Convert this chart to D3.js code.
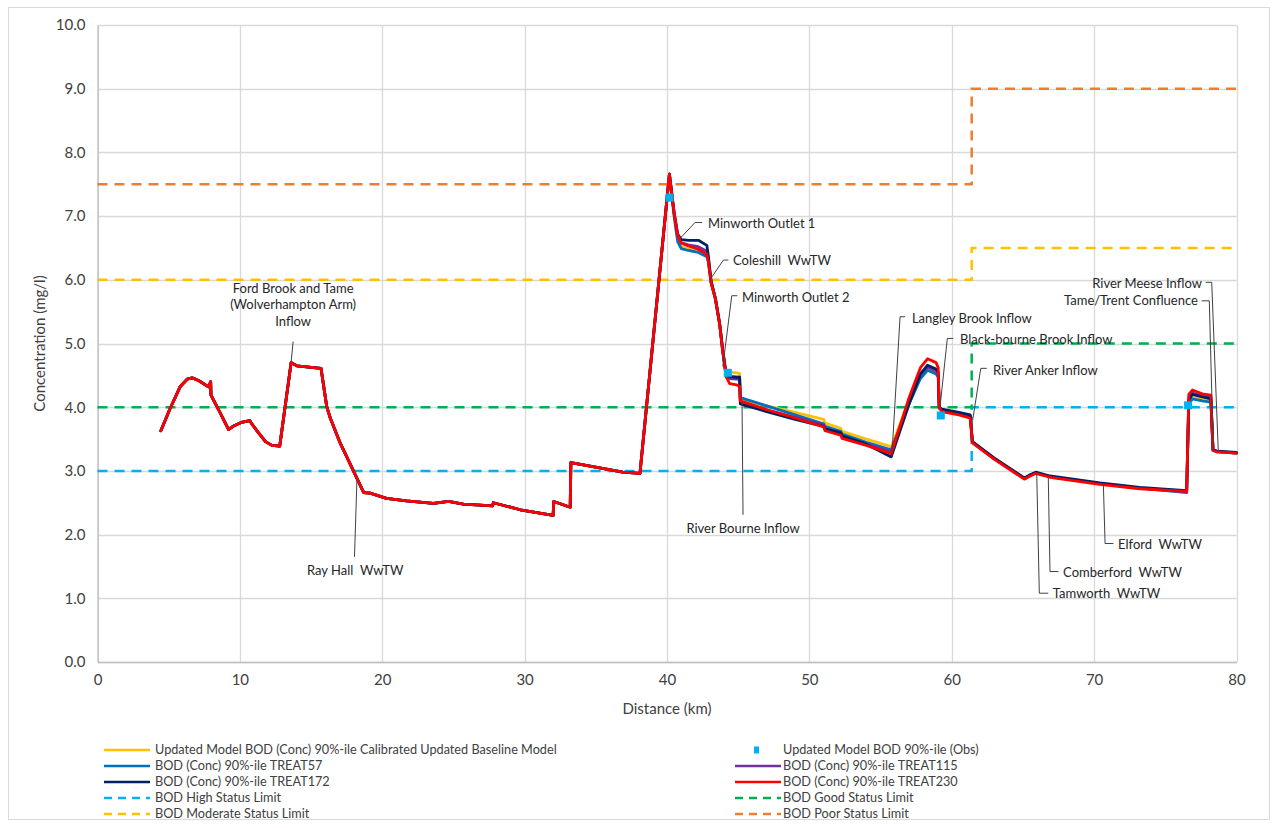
<!DOCTYPE html>
<html>
<head>
<meta charset="utf-8">
<script src="https://cdn.jsdelivr.net/npm/d3@7"></script>
<style>
  html, body { margin: 0; padding: 0; background: #fff; }
  svg { display: block; font-family: Lato, "Open Sans", sans-serif; }
  text { white-space: pre; }
</style>
</head>
<body>
<svg id="chart" width="1277" height="828"></svg>
<script>
// ---- Data: BOD 90%-ile concentration (mg/l) along the river (km) ----

// Reach common to every scenario (upstream of Minworth)
const upstreamKm  = [4.45, 5.1, 5.8, 6.3, 6.65, 7.1, 7.8, 7.95, 7.97, 8.6, 9.2, 9.6, 10.1, 10.7, 10.8, 11.3, 11.8, 12.25, 12.8, 13.6, 14.0, 15.7, 16.1, 16.35, 17.0, 18.0, 18.7, 19.15, 20.3, 21.7, 23.6, 24.65, 25.7, 27.75, 27.8, 29.7, 32.0, 32.05, 33.2, 33.25, 36.9, 38.1];
const upstreamVal = [3.63, 3.98, 4.32, 4.44, 4.46, 4.42, 4.32, 4.40, 4.19, 3.92, 3.65, 3.71, 3.76, 3.79, 3.75, 3.60, 3.46, 3.40, 3.39, 4.70, 4.65, 4.61, 4.01, 3.83, 3.46, 2.99, 2.66, 2.65, 2.57, 2.53, 2.49, 2.52, 2.48, 2.45, 2.50, 2.39, 2.30, 2.52, 2.43, 3.13, 2.98, 2.96];

// Downstream reach, per scenario
const baselineKm  = [40.17, 40.5, 40.75, 41.0, 41.5, 42.2, 42.8, 42.9, 43.1, 43.4, 43.7, 43.9, 44.15, 44.4, 44.9, 45.1, 45.15, 47.0, 49.0, 51.0, 51.1, 52.2, 52.3, 54.0, 55.75, 57.0, 57.8, 58.3, 58.9, 59.05, 59.12, 59.3, 60.5, 61.3, 61.45, 63.0, 65.1, 65.5, 65.9, 66.9, 70.4, 73.2, 76.5, 76.65, 76.9, 77.6, 78.2, 78.35, 78.6, 80.0];
const baselineVal = [7.66, 7.02, 6.64, 6.52, 6.48, 6.45, 6.38, 6.30, 5.96, 5.71, 5.31, 4.92, 4.58, 4.55, 4.54, 4.53, 4.12, 4.02, 3.92, 3.81, 3.75, 3.67, 3.62, 3.50, 3.38, 4.10, 4.50, 4.62, 4.56, 4.50, 3.99, 3.96, 3.90, 3.86, 3.45, 3.19, 2.88, 2.93, 2.97, 2.91, 2.80, 2.73, 2.67, 4.08, 4.16, 4.12, 4.10, 3.33, 3.31, 3.28];

const treat57Km   = baselineKm;
const treat57Val  = [7.66, 7.00, 6.60, 6.49, 6.46, 6.43, 6.36, 6.28, 5.95, 5.70, 5.30, 4.91, 4.50, 4.48, 4.47, 4.47, 4.15, 4.02, 3.88, 3.74, 3.70, 3.62, 3.58, 3.45, 3.33, 4.05, 4.45, 4.58, 4.52, 4.47, 3.98, 3.95, 3.90, 3.86, 3.45, 3.19, 2.88, 2.93, 2.97, 2.91, 2.80, 2.73, 2.66, 4.05, 4.13, 4.10, 4.08, 3.33, 3.30, 3.28];

const treat115Km  = baselineKm;
const treat115Val = [7.66, 7.04, 6.68, 6.58, 6.55, 6.52, 6.45, 6.34, 5.96, 5.70, 5.30, 4.91, 4.50, 4.45, 4.44, 4.44, 4.08, 3.96, 3.84, 3.72, 3.67, 3.59, 3.54, 3.42, 3.30, 4.08, 4.52, 4.63, 4.57, 4.52, 3.99, 3.96, 3.91, 3.86, 3.45, 3.19, 2.88, 2.93, 2.97, 2.91, 2.80, 2.73, 2.67, 4.15, 4.22, 4.18, 4.15, 3.33, 3.31, 3.28];

const treat172Km  = baselineKm;
const treat172Val = [7.66, 7.06, 6.72, 6.63, 6.62, 6.62, 6.54, 6.38, 5.98, 5.71, 5.31, 4.92, 4.52, 4.48, 4.47, 4.47, 4.05, 3.93, 3.81, 3.70, 3.66, 3.60, 3.55, 3.42, 3.22, 4.05, 4.52, 4.66, 4.60, 4.55, 4.00, 3.97, 3.92, 3.88, 3.46, 3.20, 2.89, 2.94, 2.98, 2.92, 2.81, 2.74, 2.69, 4.12, 4.20, 4.16, 4.13, 3.33, 3.31, 3.29];

const treat230Km  = baselineKm;
const treat230Val = [7.66, 7.05, 6.70, 6.58, 6.53, 6.48, 6.40, 6.30, 5.95, 5.70, 5.30, 4.90, 4.48, 4.37, 4.35, 4.33, 4.10, 3.96, 3.83, 3.69, 3.63, 3.56, 3.51, 3.40, 3.27, 4.15, 4.62, 4.76, 4.70, 4.62, 4.00, 3.93, 3.88, 3.83, 3.44, 3.18, 2.87, 2.92, 2.96, 2.90, 2.79, 2.72, 2.68, 4.20, 4.27, 4.21, 4.19, 3.32, 3.30, 3.28];

// Observed 90%-ile values
const obsKm  = [40.17, 44.27, 59.23, 76.6];
const obsVal = [7.29, 4.54, 3.87, 4.03];

// WFD status limits (step change at the Tame/Anker reach)
const limitKm   = [0, 61.4, 61.4, 80];
const highLim   = [3.0, 3.0, 4.0, 4.0];
const goodLim   = [4.0, 4.0, 5.0, 5.0];
const modLim    = [6.0, 6.0, 6.5, 6.5];
const poorLim   = [7.5, 7.5, 9.0, 9.0];

// Axis ticks
const xTicks = [0, 10, 20, 30, 40, 50, 60, 70, 80];
const yTicks = [0, 1, 2, 3, 4, 5, 6, 7, 8, 9, 10];

// Point annotations: text, label position, leader path (all in km / mg/l)
const annotations = [
  { lines: ["Ford Brook and Tame", "(Wolverhampton Arm)", "Inflow"], at: [13.74, 5.87], anchor: "middle", leader: [[13.74, 5.03], [13.6, 4.71]] },
  { lines: ["Ray Hall  WwTW"], at: [18.1, 1.43], anchor: "middle", leader: [[18.05, 1.65], [18.22, 2.85]] },
  { lines: ["Minworth Outlet 1"], at: [42.88, 6.88], anchor: "start", leader: [[40.92, 6.65], [41.97, 6.90], [42.46, 6.90]] },
  { lines: ["Coleshill  WwTW"], at: [44.64, 6.30], anchor: "start", leader: [[43.02, 6.0], [43.96, 6.31], [44.31, 6.31]] },
  { lines: ["Minworth Outlet 2"], at: [45.27, 5.73], anchor: "start", leader: [[43.92, 4.64], [44.55, 5.75], [44.94, 5.75]] },
  { lines: ["River Bourne Inflow"], at: [45.34, 2.10], anchor: "middle", leader: [[45.27, 4.08], [45.34, 2.31]] },
  { lines: ["Langley Brook Inflow"], at: [57.2, 5.40], anchor: "start", leader: [[55.79, 3.22], [56.37, 5.42], [56.72, 5.42]] },
  { lines: ["Black-bourne Brook Inflow"], at: [60.58, 5.07], anchor: "start", leader: [[59.18, 4.01], [59.69, 5.08], [60.11, 5.08]] },
  { lines: ["River Anker Inflow"], at: [62.9, 4.58], anchor: "start", leader: [[61.47, 3.80], [62.04, 4.61], [62.46, 4.61]] },
  { lines: ["River Meese Inflow"], at: [77.57, 5.95], anchor: "end", leader: [[77.84, 5.96], [78.26, 5.96], [78.72, 3.31]] },
  { lines: ["Tame/Trent Confluence"], at: [77.29, 5.67], anchor: "end", leader: [[77.55, 5.67], [78.09, 5.67], [78.37, 3.32]] },
  { lines: ["Elford  WwTW"], at: [71.68, 1.85], anchor: "start", leader: [[70.65, 2.78], [70.77, 1.86], [71.35, 1.86]] },
  { lines: ["Comberford  WwTW"], at: [67.82, 1.41], anchor: "start", leader: [[66.78, 2.90], [66.9, 1.42], [67.49, 1.42]] },
  { lines: ["Tamworth  WwTW"], at: [67.1, 1.07], anchor: "start", leader: [[65.97, 2.96], [66.15, 1.08], [66.78, 1.08]] }
];

// ---- Series definitions ----
const zip = (ks, vs) => ks.map((k, i) => ({ km: k, v: vs[i] }));
const withUpstream = (ks, vs) => zip(upstreamKm, upstreamVal).concat(zip(ks, vs));

const lineSeries = [
  { name: "Updated Model BOD (Conc) 90%-ile Calibrated Updated Baseline Model", color: "#ffc000", data: withUpstream(baselineKm, baselineVal) },
  { name: "BOD (Conc) 90%-ile TREAT57",  color: "#0070c0", data: withUpstream(treat57Km, treat57Val) },
  { name: "BOD (Conc) 90%-ile TREAT115", color: "#7030a0", data: withUpstream(treat115Km, treat115Val) },
  { name: "BOD (Conc) 90%-ile TREAT172", color: "#002060", data: withUpstream(treat172Km, treat172Val) },
  { name: "BOD (Conc) 90%-ile TREAT230", color: "#ff0000", data: withUpstream(treat230Km, treat230Val) }
];
const limitSeries = [
  { name: "BOD High Status Limit",     color: "#00b0f0", data: zip(limitKm, highLim) },
  { name: "BOD Good Status Limit",     color: "#00b050", data: zip(limitKm, goodLim) },
  { name: "BOD Moderate Status Limit", color: "#ffc000", data: zip(limitKm, modLim) },
  { name: "BOD Poor Status Limit",     color: "#ed7d31", data: zip(limitKm, poorLim) }
];
const obsSeries = { name: "Updated Model BOD 90%-ile (Obs)", color: "#00b0f0", data: zip(obsKm, obsVal) };

// ---- Layout ----
const svg = d3.select("#chart");
const plot = { left: 97.5, right: 1236.5, top: 25, bottom: 662 };
const x = d3.scaleLinear().domain([0, 80]).range([plot.left, plot.right]);
const y = d3.scaleLinear().domain([0, 10]).range([plot.bottom, plot.top]);

// Chart frame
svg.append("rect").attr("x", 8.5).attr("y", 7.5).attr("width", 1261).attr("height", 812)
  .attr("fill", "#fff").attr("stroke", "#d9d9d9").attr("stroke-width", 1);

// Gridlines
const grid = svg.append("g");
grid.selectAll(".gx").data(xTicks).join("line")
  .attr("x1", d => Math.round(x(d)) + 0.5).attr("x2", d => Math.round(x(d)) + 0.5)
  .attr("y1", plot.top).attr("y2", plot.bottom)
  .attr("stroke", "#d9d9d9").attr("stroke-width", 1.3);
grid.selectAll(".gy").data(yTicks).join("line")
  .attr("x1", plot.left).attr("x2", plot.right)
  .attr("y1", d => Math.round(y(d)) + 0.5).attr("y2", d => Math.round(y(d)) + 0.5)
  .attr("stroke", "#d9d9d9").attr("stroke-width", 1.3);

// Axes
const xAxis = svg.append("g").attr("transform", `translate(0,${plot.bottom})`)
  .call(d3.axisBottom(x).tickValues(xTicks).tickSize(0).tickPadding(12).tickFormat(d3.format("d")));
const yAxis = svg.append("g").attr("transform", `translate(${plot.left},0)`)
  .call(d3.axisLeft(y).tickValues(yTicks).tickSize(0).tickPadding(12).tickFormat(d3.format(".1f")));
[xAxis, yAxis].forEach(a => {
  a.select(".domain").attr("stroke", "#bfbfbf").attr("stroke-width", 1.3);
  a.selectAll("text").attr("fill", "#404040").style("font-size", "15px").style("font-family", "Lato, sans-serif");
});
xAxis.selectAll("text").attr("dy", "0.71em");

svg.append("text").attr("x", (plot.left + plot.right) / 2).attr("y", 714)
  .attr("text-anchor", "middle").attr("fill", "#404040").style("font-size", "15px")
  .text("Distance (km)");
svg.append("text").attr("transform", `translate(45,${(plot.top + plot.bottom) / 2}) rotate(-90)`)
  .attr("text-anchor", "middle").attr("fill", "#404040").style("font-size", "15px")
  .text("Concentration (mg/l)");

// Status limit lines (dashed steps)
const line = d3.line().x(d => x(d.km)).y(d => y(d.v));
svg.append("g").selectAll("path").data(limitSeries).join("path")
  .attr("d", d => line(d.data)).attr("fill", "none")
  .attr("stroke", d => d.color).attr("stroke-width", 2.5).attr("stroke-dasharray", "10,7");

// Model profiles
svg.append("g").selectAll("path").data(lineSeries).join("path")
  .attr("d", d => line(d.data)).attr("fill", "none")
  .attr("stroke", d => d.color).attr("stroke-width", 2.8)
  .attr("stroke-linejoin", "round").attr("stroke-linecap", "round");

// Observations
svg.append("g").selectAll("rect").data(obsSeries.data).join("rect")
  .attr("x", d => x(d.km) - 4).attr("y", d => y(d.v) - 4)
  .attr("width", 8).attr("height", 8).attr("fill", obsSeries.color);

// Annotations
const ann = svg.append("g");
annotations.forEach(a => {
  ann.append("path").attr("d", d3.line()(a.leader.map(p => [x(p[0]), y(p[1])])))
    .attr("fill", "none").attr("stroke", "#404040").attr("stroke-width", 1);
  const t = ann.append("text").attr("text-anchor", a.anchor).attr("fill", "#262626")
    .style("font-size", "13px");
  a.lines.forEach((s, i) => {
    t.append("tspan").attr("x", x(a.at[0])).attr("y", y(a.at[1]) + i * 16.5)
      .attr("dy", "0.35em").text(s);
  });
});

// Legend
const legendItems = [
  { s: lineSeries[0], type: "line" }, { s: obsSeries, type: "marker" },
  { s: lineSeries[1], type: "line" }, { s: lineSeries[2], type: "line" },
  { s: lineSeries[3], type: "line" }, { s: lineSeries[4], type: "line" },
  { s: limitSeries[0], type: "dash" }, { s: limitSeries[1], type: "dash" },
  { s: limitSeries[2], type: "dash" }, { s: limitSeries[3], type: "dash" }
];
const legend = svg.append("g");
legendItems.forEach((it, i) => {
  const col = i % 2, row = Math.floor(i / 2);
  const lx = col === 0 ? 104 : 735;
  const ly = 750 + row * 16;
  const g = legend.append("g").attr("transform", `translate(${lx},${ly})`);
  if (it.type === "marker") {
    g.append("rect").attr("x", 19).attr("y", -3.5).attr("width", 5).attr("height", 7).attr("fill", it.s.color);
  } else {
    g.append("line").attr("x1", 0).attr("x2", 46).attr("y1", 0).attr("y2", 0)
      .attr("stroke", it.s.color).attr("stroke-width", 2.5)
      .attr("stroke-dasharray", it.type === "dash" ? "8,6" : null);
  }
  g.append("text").attr("x", col === 0 ? 51 : 48).attr("y", 0).attr("dy", "0.35em")
    .attr("fill", "#404040").style("font-size", "12.7px").text(it.s.name);
});
</script>
</body>
</html>
